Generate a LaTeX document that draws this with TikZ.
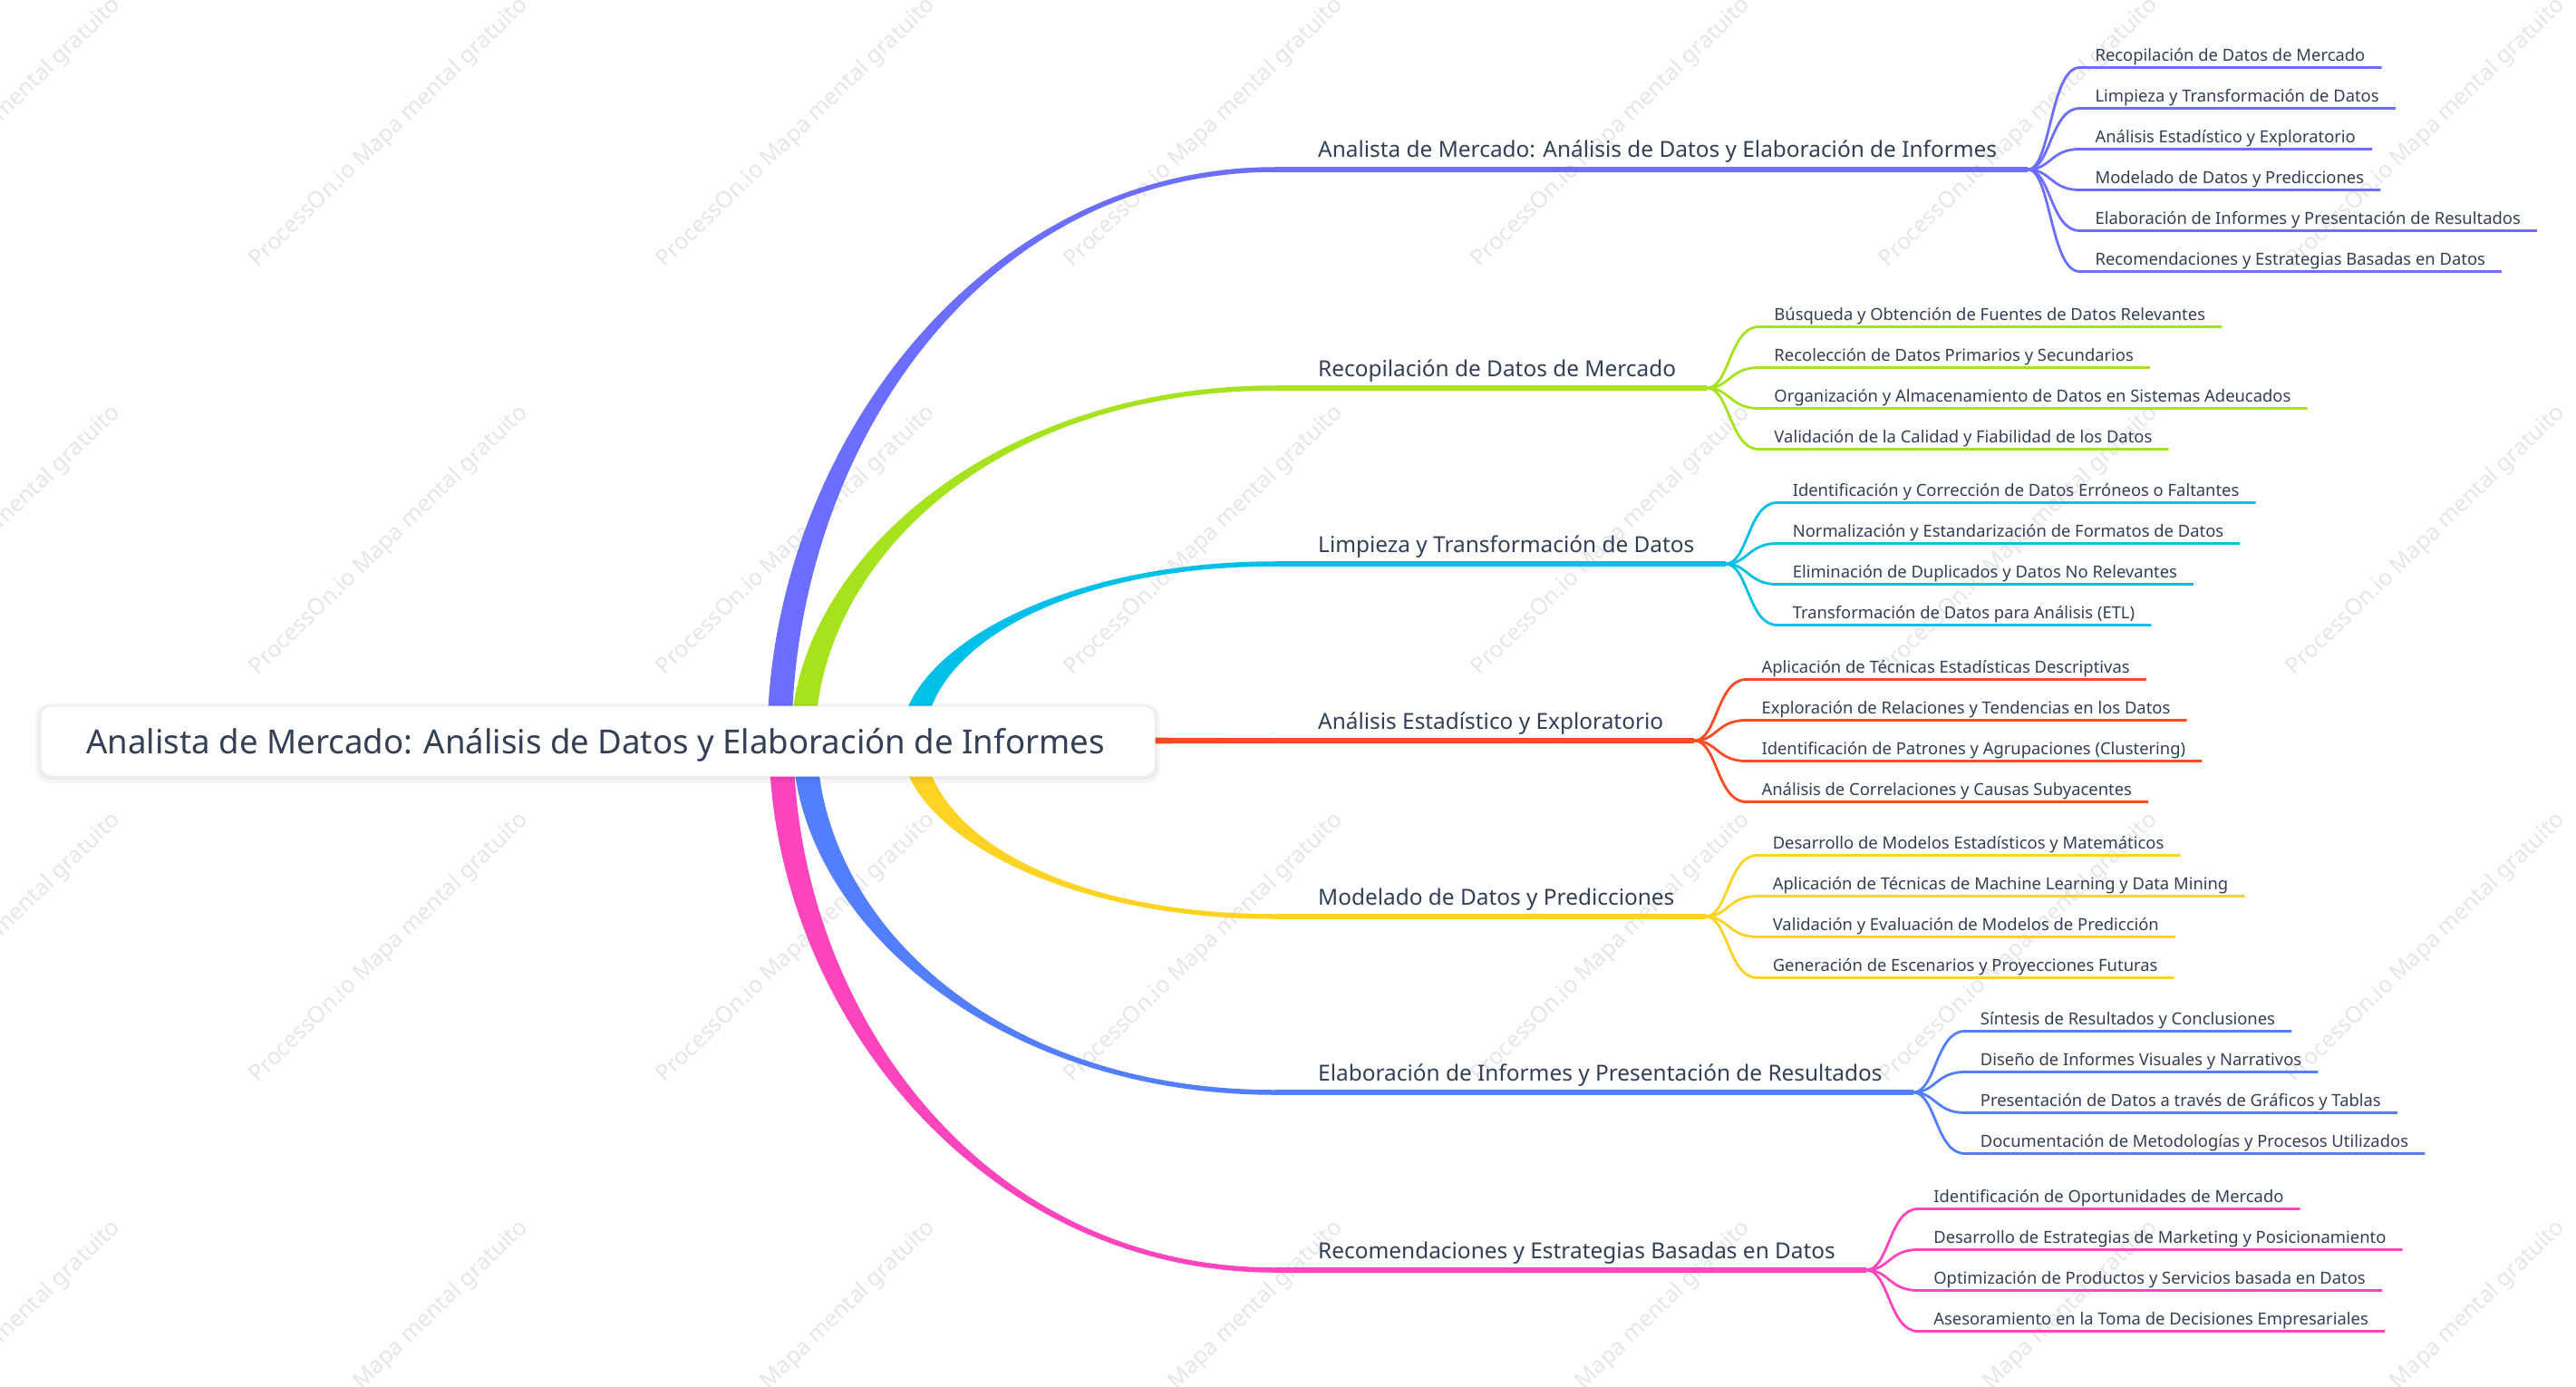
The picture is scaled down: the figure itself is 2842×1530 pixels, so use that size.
\documentclass[tikz,border=0pt]{standalone}
\usepackage{fontspec}
\setmainfont{Noto Sans}
\usetikzlibrary{calc}
\definecolor{txt}{HTML}{333F55}
\definecolor{cpurple}{HTML}{6C6EFF}
\definecolor{cgreen}{HTML}{A6E21E}
\definecolor{ccyan}{HTML}{00BFE8}
\definecolor{cred}{HTML}{FF4A22}
\definecolor{cyellow}{HTML}{FFD324}
\definecolor{cblue}{HTML}{527EFF}
\definecolor{cpink}{HTML}{FF45BE}
\definecolor{wmark}{HTML}{E6E6E6}
\tikzset{
 l1text/.style={inner sep=0pt, text=txt, font=\fontsize{24.4}{30}\selectfont},
 l2text/.style={inner sep=0pt, text=txt, font=\fontsize{18.4}{22}\selectfont},
 roottext/.style={inner sep=0pt, text=txt, font=\fontsize{36.6}{44}\selectfont},
 rootbox/.style={fill=white, draw=black!5, line width=1pt, rounded corners=12pt, minimum width=1229pt, minimum height=77pt, inner sep=0pt},
 l1line/.style={line width=5.5pt},
 l2line/.style={line width=2.8pt},
 wmtext/.style={inner sep=0pt, text=wmark, font=\fontsize{25}{30}\selectfont, rotate=44, anchor=base west},
}
% tapered branch: color, start coord, end coord, sign (+1 up, -1 down)
\newcommand\mmtaper[4]{%
  \fill[#1] let \p1=(#2), \p2=(#3) in
   ({\x1-13.5pt},{\y1}) .. controls ({\x1-13.5pt},{0.5*(\y1)+0.5*(\y2)}) and ({0.6*(\x1)+0.4*(\x2)},{\y2+(#4)*2.75pt}) .. ({\x2},{\y2+(#4)*2.75pt})
   -- ({\x2},{\y2-(#4)*2.75pt}) .. controls ({0.6*(\x1)+0.4*(\x2)},{\y2-(#4)*2.75pt}) and ({\x1+13.5pt},{0.5*(\y1)+0.5*(\y2)}) .. ({\x1+13.5pt},{\y1}) -- cycle;
}
% main branch: color, name, start x, end y, sign, text
\newcommand\mmmain[6]{%
  \coordinate (#2-s) at (#3,817);
  \coordinate (#2-e) at (1407,#4);
  \node[l1text, anchor=base west] (#2) at (1454,#4-13) {#6};
  \mmtaper{#1}{#2-s}{#2-e}{#5}
  \draw[#1, l1line] (#2-e) -- (#2-e -| #2.east) -- ++(34,0) coordinate (#2-f);
}
% child: color, fork coord, dy, name, text
\newcommand\mmchild[5]{%
  \coordinate (#4-s) at ($(#2)+(57,#3)$);
  \node[l2text, anchor=base west] (#4) at ($(#2)+(74,#3-7)$) {#5};
  \draw[#1, l2line] (#2) .. controls ($(#2)+(25,0)$) and ($(#2)+(25,#3)$) .. (#4-s) -- ($(#4-s -| #4.east)+(18,0)$);
}
\begin{document}
\begin{tikzpicture}[x=1pt,y=-1pt]
\useasboundingbox (0,0) rectangle (2842,1530);
\fill[white] (0,0) rectangle (2842,1530);
% watermark
\foreach \k in {0,...,6}{\foreach \j in {0,...,3}{
  \node[wmtext] (wm\k\j) at ({284+449.5*(\k-1)},{296+449.5*\j}) {ProcessOn.io Mapa mental gratuito};}}
% main branches
\mmmain{cpurple}{b1}{860}{187}{1}{Analista de Mercado: Análisis de Datos y Elaboración de Informes}
\mmmain{cgreen}{b2}{886}{428}{1}{Recopilación de Datos de Mercado}
\mmmain{ccyan}{b3}{1007}{622}{1}{Limpieza y Transformación de Datos}
\coordinate (b4-s) at (1000,817);
\coordinate (b4-e) at (1407,817);
\node[l1text, anchor=base west] (b4) at (1454,804) {Análisis Estadístico y Exploratorio};
\fill[cred] (1000,812.5) -- (1407,814.25) -- (1407,819.75) -- (1000,821.5) -- cycle;
\draw[cred, l1line] (b4-e) -- (b4-e -| b4.east) -- ++(34,0) coordinate (b4-f);
\mmmain{cyellow}{b5}{1007}{1011}{-1}{Modelado de Datos y Predicciones}
\mmmain{cblue}{b6}{888}{1205}{-1}{Elaboración de Informes y Presentación de Resultados}
\mmmain{cpink}{b7}{862}{1401}{-1}{Recomendaciones y Estrategias Basadas en Datos}
% children
\mmchild{cpurple}{b1-f}{-112.5}{b1c1}{Recopilación de Datos de Mercado}
\mmchild{cpurple}{b1-f}{-67.5}{b1c2}{Limpieza y Transformación de Datos}
\mmchild{cpurple}{b1-f}{-22.5}{b1c3}{Análisis Estadístico y Exploratorio}
\mmchild{cpurple}{b1-f}{22.5}{b1c4}{Modelado de Datos y Predicciones}
\mmchild{cpurple}{b1-f}{67.5}{b1c5}{Elaboración de Informes y Presentación de Resultados}
\mmchild{cpurple}{b1-f}{112.5}{b1c6}{Recomendaciones y Estrategias Basadas en Datos}
\mmchild{cgreen}{b2-f}{-67.5}{b2c1}{Búsqueda y Obtención de Fuentes de Datos Relevantes}
\mmchild{cgreen}{b2-f}{-22.5}{b2c2}{Recolección de Datos Primarios y Secundarios}
\mmchild{cgreen}{b2-f}{22.5}{b2c3}{Organización y Almacenamiento de Datos en Sistemas Adeucados}
\mmchild{cgreen}{b2-f}{67.5}{b2c4}{Validación de la Calidad y Fiabilidad de los Datos}
\mmchild{ccyan}{b3-f}{-67.5}{b3c1}{Identificación y Corrección de Datos Erróneos o Faltantes}
\mmchild{ccyan}{b3-f}{-22.5}{b3c2}{Normalización y Estandarización de Formatos de Datos}
\mmchild{ccyan}{b3-f}{22.5}{b3c3}{Eliminación de Duplicados y Datos No Relevantes}
\mmchild{ccyan}{b3-f}{67.5}{b3c4}{Transformación de Datos para Análisis (ETL)}
\mmchild{cred}{b4-f}{-67.5}{b4c1}{Aplicación de Técnicas Estadísticas Descriptivas}
\mmchild{cred}{b4-f}{-22.5}{b4c2}{Exploración de Relaciones y Tendencias en los Datos}
\mmchild{cred}{b4-f}{22.5}{b4c3}{Identificación de Patrones y Agrupaciones (Clustering)}
\mmchild{cred}{b4-f}{67.5}{b4c4}{Análisis de Correlaciones y Causas Subyacentes}
\mmchild{cyellow}{b5-f}{-67.5}{b5c1}{Desarrollo de Modelos Estadísticos y Matemáticos}
\mmchild{cyellow}{b5-f}{-22.5}{b5c2}{Aplicación de Técnicas de Machine Learning y Data Mining}
\mmchild{cyellow}{b5-f}{22.5}{b5c3}{Validación y Evaluación de Modelos de Predicción}
\mmchild{cyellow}{b5-f}{67.5}{b5c4}{Generación de Escenarios y Proyecciones Futuras}
\mmchild{cblue}{b6-f}{-67.5}{b6c1}{Síntesis de Resultados y Conclusiones}
\mmchild{cblue}{b6-f}{-22.5}{b6c2}{Diseño de Informes Visuales y Narrativos}
\mmchild{cblue}{b6-f}{22.5}{b6c3}{Presentación de Datos a través de Gráficos y Tablas}
\mmchild{cblue}{b6-f}{67.5}{b6c4}{Documentación de Metodologías y Procesos Utilizados}
\mmchild{cpink}{b7-f}{-67.5}{b7c1}{Identificación de Oportunidades de Mercado}
\mmchild{cpink}{b7-f}{-22.5}{b7c2}{Desarrollo de Estrategias de Marketing y Posicionamiento}
\mmchild{cpink}{b7-f}{22.5}{b7c3}{Optimización de Productos y Servicios basada en Datos}
\mmchild{cpink}{b7-f}{67.5}{b7c4}{Asesoramiento en la Toma de Decisiones Empresariales}
% root
\fill[black, opacity=0.035, rounded corners=16pt] (39,776) rectangle (1280,864);
\fill[black, opacity=0.04, rounded corners=14pt] (42,778) rectangle (1277,860);
\node[rootbox] (root) at (659.5,817.5) {};
\node[roottext, anchor=base] (rt) at (657,831) {Analista de Mercado: Análisis de Datos y Elaboración de Informes};
\end{tikzpicture}
\end{document}
